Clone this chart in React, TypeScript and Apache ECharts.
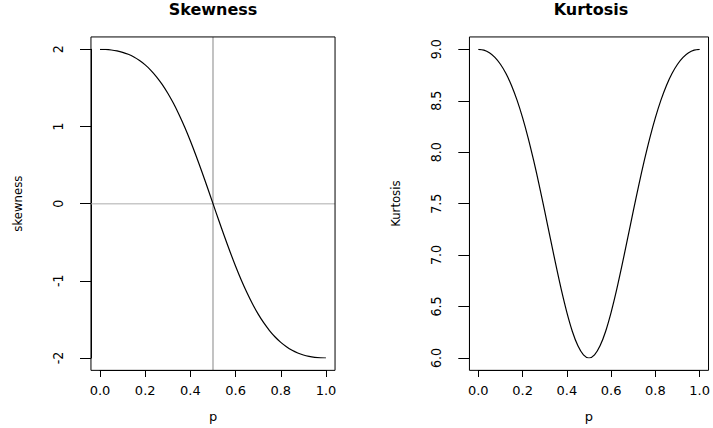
import React, { useEffect, useRef } from "react";
import * as echarts from "echarts";

// p grid
const pValues = [
  0, 0.025, 0.05, 0.075, 0.1, 0.125, 0.15, 0.175, 0.2, 0.225, 0.25, 0.275, 0.3, 0.325, 0.35, 0.375, 0.4,
  0.425, 0.45, 0.475, 0.5, 0.525, 0.55, 0.575, 0.6, 0.625, 0.65, 0.675, 0.7, 0.725, 0.75, 0.775, 0.8,
  0.825, 0.85, 0.875, 0.9, 0.925, 0.95, 0.975, 1,
];

const skewness = [
  2.0, 1.998, 1.991, 1.979, 1.961, 1.935, 1.9, 1.854, 1.798, 1.728, 1.644, 1.546, 1.431, 1.3, 1.152,
  0.989, 0.811, 0.62, 0.419, 0.212, 0.0, -0.212, -0.419, -0.62, -0.811, -0.989, -1.152, -1.3, -1.431,
  -1.546, -1.644, -1.728, -1.798, -1.854, -1.9, -1.935, -1.961, -1.979, -1.991, -1.998, -2.0,
];

const kurtosis = [
  9.0, 8.992, 8.967, 8.922, 8.855, 8.765, 8.649, 8.506, 8.336, 8.14, 7.92, 7.681, 7.427, 7.167, 6.909,
  6.664, 6.444, 6.258, 6.118, 6.03, 6.0, 6.03, 6.118, 6.258, 6.444, 6.664, 6.909, 7.167, 7.427, 7.681,
  7.92, 8.14, 8.336, 8.506, 8.649, 8.765, 8.855, 8.922, 8.967, 8.992, 9.0,
];

const titles = ["Skewness", "Kurtosis"];
const xName = "p";
const yNames = ["skewness", "Kurtosis"];

// axis extents (R style: data range extended by 4%)
const xRange = [-0.04, 1.04];
const skewRange = [-2.16, 2.16];
const kurtRange = [5.88, 9.12];
const skewAxis = { min: -2, max: 2, interval: 1 };
const kurtAxis = { min: 6, max: 9, interval: 0.5 };
const xAxisTicks = { min: 0, max: 1, interval: 0.2 };
const vRefX = 0.5;
const hRefY = 0;

const wideFont = "'DejaVu Sans', 'Liberation Sans', sans-serif";
const narrowFont = "'Liberation Sans Narrow', 'DejaVu Sans Condensed', 'Liberation Sans', sans-serif";

export default function App() {
  const ref = useRef<HTMLDivElement>(null);

  useEffect(() => {
    document.body.style.margin = "0";
    if (!ref.current) return;
    const chart = echarts.init(ref.current, null, { renderer: "svg" });

    const gridTop = 49.3;
    const gridH = 308.7;
    const grids = [
      { left: 100, top: gridTop, width: 226, height: gridH },
      { left: 478.3, top: gridTop, width: 225.7, height: gridH },
    ];

    const makeX = (gi: number) => ({
      type: "value",
      gridIndex: gi,
      min: xAxisTicks.min,
      max: xAxisTicks.max,
      interval: xAxisTicks.interval,
      offset: 12,
      name: xName,
      nameLocation: "middle",
      nameGap: 40,
      nameTextStyle: { fontFamily: wideFont, fontSize: 13, color: "#000" },
      axisLine: { show: true, onZero: false, lineStyle: { color: "#000", width: 1 } },
      axisTick: { show: true, length: 7, lineStyle: { color: "#000", width: 1 } },
      axisLabel: {
        margin: 14,
        fontFamily: wideFont,
        fontSize: 13,
        color: "#000",
        formatter: (v: number) => v.toFixed(1),
      },
      splitLine: { show: false },
    });

    const makeY = (gi: number, ax: any, name: string, fmt: (v: number) => string) => ({
      type: "value",
      gridIndex: gi,
      min: ax.min,
      max: ax.max,
      interval: ax.interval,
      offset: 9,
      name,
      nameLocation: "middle",
      nameRotate: 90,
      nameGap: 67,
      nameTextStyle: { fontFamily: narrowFont, fontSize: 13, color: "#000" },
      axisLine: { show: true, onZero: false, lineStyle: { color: "#000", width: 1 } },
      axisTick: { show: true, length: 11, lineStyle: { color: "#000", width: 1 } },
      axisLabel: {
        rotate: 90,
        margin: 26,
        fontFamily: narrowFont,
        fontSize: 14,
        color: "#000",
        formatter: fmt,
      },
      splitLine: { show: false },
    });

    const lineBase = {
      type: "line",
      showSymbol: false,
      symbol: "none",
      silent: true,
    };

    chart.setOption({
      animation: false,
      backgroundColor: "#fff",
      title: [
        {
          text: titles[0],
          left: 213,
          top: 1,
          padding: 0,
          textAlign: "center",
          textStyle: { fontFamily: wideFont, fontWeight: "bold", fontSize: 16, color: "#000" },
        },
        {
          text: titles[1],
          left: 591,
          top: 1,
          padding: 0,
          textAlign: "center",
          textStyle: { fontFamily: wideFont, fontWeight: "bold", fontSize: 16, color: "#000" },
        },
      ],
      grid: grids,
      xAxis: [makeX(0), makeX(1)],
      yAxis: [
        makeY(0, skewAxis, yNames[0], (v: number) => String(v)),
        makeY(1, kurtAxis, yNames[1], (v: number) => v.toFixed(1)),
      ],
      series: [
        {
          ...lineBase,
          name: "skewness",
          xAxisIndex: 0,
          yAxisIndex: 0,
          smooth: 0.3,
          z: 5,
          data: pValues.map((p, i) => [p, skewness[i]]),
          lineStyle: { color: "#000", width: 1.2 },
        },
        {
          ...lineBase,
          name: "Kurtosis",
          xAxisIndex: 1,
          yAxisIndex: 1,
          smooth: 0.3,
          z: 5,
          data: pValues.map((p, i) => [p, kurtosis[i]]),
          lineStyle: { color: "#000", width: 1.2 },
        },
      ],
    });

    // Box and reference lines positioned through the axes' own scales
    const px = (gi: number, x: number, y: number) =>
      chart.convertToPixel({ xAxisIndex: gi, yAxisIndex: gi }, [x, y]) as number[];

    const box = (gi: number, yr: number[]) => {
      const a = px(gi, xRange[0], yr[1]);
      const b = px(gi, xRange[1], yr[0]);
      return {
        type: "rect",
        z: 10,
        silent: true,
        shape: { x: a[0], y: a[1], width: b[0] - a[0], height: b[1] - a[1] },
        style: { fill: "none", stroke: "#000", lineWidth: 1 },
      };
    };

    const h0 = px(0, xRange[0], hRefY);
    const h1 = px(0, xRange[1], hRefY);
    const v0 = px(0, vRefX, skewRange[0]);
    const v1 = px(0, vRefX, skewRange[1]);

    chart.setOption({
      graphic: [
        {
          type: "line",
          z: 1,
          silent: true,
          shape: { x1: h0[0], y1: h0[1], x2: h1[0], y2: h1[1] },
          style: { stroke: "#c8c8c8", lineWidth: 1.5 },
        },
        {
          type: "line",
          z: 1,
          silent: true,
          shape: { x1: v0[0], y1: v0[1], x2: v1[0], y2: v1[1] },
          style: { stroke: "#9a9a9a", lineWidth: 1.2 },
        },
        box(0, skewRange),
        box(1, kurtRange),
      ],
    });

    return () => chart.dispose();
  }, []);

  return <div ref={ref} style={{ width: 713, height: 428 }} />;
}
